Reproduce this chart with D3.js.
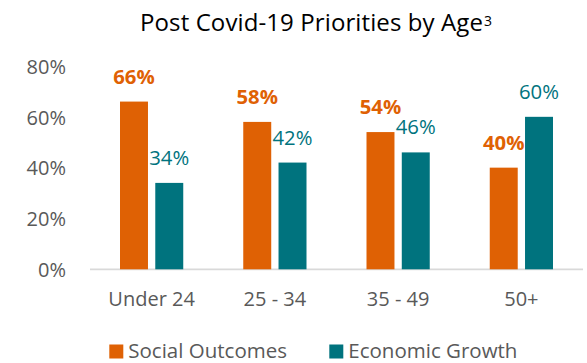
<!DOCTYPE html>
<html>
<head>
<meta charset="utf-8">
<script src="https://cdn.jsdelivr.net/npm/d3@7/dist/d3.min.js"></script>
<style>
  html, body { margin: 0; padding: 0; background: #fff; }
  svg { display: block; font-family: "Open Sans", "Noto Sans", sans-serif; }
</style>
</head>
<body>
<svg id="chart" width="587" height="363"></svg>
<script>
// Data
const categories = ["Under 24", "25 - 34", "35 - 49", "50+"];
const seriesNames = ["Social Outcomes", "Economic Growth"];
const socialOutcomes = [66, 58, 54, 40];
const economicGrowth = [34, 42, 46, 60];
const yTicks = [0, 20, 40, 60, 80];
const titleText = "Post Covid-19 Priorities by Age";
const titleSup = "3";

const colors = { "Social Outcomes": "#DF6104", "Economic Growth": "#00737E" };
const textGray = "#595959";

const svg = d3.select("#chart");

const plot = { left: 90, right: 583, top: 66, bottom: 269.3 };

const x0 = d3.scaleBand().domain(categories).range([plot.left, plot.right]);
const x1 = d3.scaleBand().domain(seriesNames)
  .range([30, x0.bandwidth() - 30]).paddingInner(0.207);
const y = d3.scaleLinear().domain([0, 80]).range([plot.bottom, plot.top]);

// Title, spread to its target width, then the superscript footnote marker right after it
const titleWidth = 343;
const title = svg.append("text")
  .attr("x", 140).attr("y", 31)
  .attr("font-size", 24).attr("fill", "#000")
  .text(titleText);
const natural = title.node().getComputedTextLength();
if (natural < titleWidth) {
  title.attr("letter-spacing", (titleWidth - natural) / (titleText.length - 1));
}
const titleEnd = 140 + title.node().getComputedTextLength();
svg.append("text")
  .attr("x", Math.min(titleEnd, 140 + titleWidth) + 1).attr("y", 26)
  .attr("font-size", 14).attr("fill", "#000")
  .text(titleSup);

// Y axis labels
const yAxis = d3.axisLeft(y).tickValues(yTicks).tickFormat(d => d + "%").tickSize(0).tickPadding(0);
const yg = svg.append("g").attr("transform", `translate(${66},0)`).call(yAxis);
yg.select(".domain").remove();
yg.selectAll("text").attr("font-size", 20).attr("fill", textGray)
  .attr("font-family", "'Open Sans', sans-serif").attr("dy", "0.36em");

// Baseline
svg.append("line")
  .attr("x1", plot.left).attr("x2", plot.right)
  .attr("y1", y(0)).attr("y2", y(0))
  .attr("stroke", "#D9D9D9").attr("stroke-width", 1.8);

// X axis labels
const xAxis = d3.axisBottom(x0).tickSize(0).tickPadding(0);
const xg = svg.append("g").attr("transform", `translate(0,${306})`).call(xAxis);
xg.select(".domain").remove();
xg.selectAll("text").attr("font-size", 20).attr("fill", textGray)
  .attr("font-family", "'Open Sans', sans-serif").attr("dy", 0);

// Bars
const rows = categories.map((c, i) => ({
  category: c,
  values: [
    { series: "Social Outcomes", value: socialOutcomes[i] },
    { series: "Economic Growth", value: economicGrowth[i] }
  ]
}));

const groups = svg.selectAll("g.group").data(rows).join("g")
  .attr("class", "group")
  .attr("transform", d => `translate(${x0(d.category)},0)`);

groups.selectAll("rect").data(d => d.values).join("rect")
  .attr("x", d => x1(d.series))
  .attr("width", x1.bandwidth())
  .attr("y", d => y(d.value))
  .attr("height", d => y(0) - y(d.value))
  .attr("fill", d => colors[d.series]);

groups.selectAll("text.val").data(d => d.values).join("text")
  .attr("class", "val")
  .attr("x", d => x1(d.series) + x1.bandwidth() / 2)
  .attr("y", d => y(d.value) - 18)
  .attr("text-anchor", "middle")
  .attr("font-size", 20.3)
  .attr("font-weight", d => d.series === "Social Outcomes" ? 700 : 400)
  .attr("fill", d => colors[d.series])
  .text(d => d.value + "%");

// Legend
const legendItems = [
  { name: "Social Outcomes", x: 109.3 },
  { name: "Economic Growth", x: 329.3 }
];
const lg = svg.selectAll("g.legend").data(legendItems).join("g")
  .attr("class", "legend")
  .attr("transform", d => `translate(${d.x},0)`);
lg.append("rect").attr("x", 0).attr("y", 344.5).attr("width", 14).attr("height", 14)
  .attr("fill", d => colors[d.name]);
lg.append("text").attr("x", 19).attr("y", 358)
  .attr("font-size", 20.5).attr("fill", textGray)
  .text(d => d.name);
</script>
</body>
</html>
